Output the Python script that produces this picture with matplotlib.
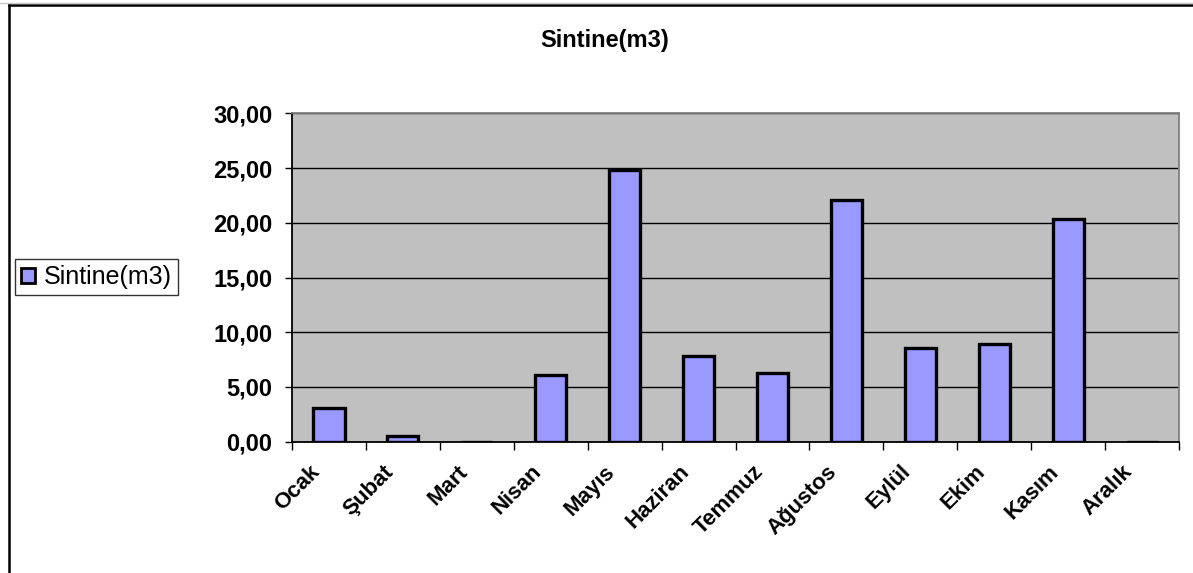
import matplotlib.pyplot as plt
import numpy as np
from matplotlib.lines import Line2D
from matplotlib.patches import Patch
from matplotlib.transforms import ScaledTranslation

months = ['Ocak', 'Şubat', 'Mart', 'Nisan', 'Mayıs', 'Haziran',
          'Temmuz', 'Ağustos', 'Eylül', 'Ekim', 'Kasım', 'Aralık']
sintine = [3.05, 0.55, 0.0, 6.1, 24.8, 7.85, 6.25, 22.1, 8.6, 8.9, 20.3, 0.0]
yticks = [0, 5, 10, 15, 20, 25, 30]

plt.rcParams['font.family'] = ['Liberation Sans', 'DejaVu Sans']

fig = plt.figure(figsize=(11.93, 5.73), dpi=100)
ax = fig.add_axes([0.2448, 0.2291, 0.7435, 0.5732])
ax.set_facecolor('#C0C0C0')

x = np.arange(len(months))
ax.bar(x, sintine, width=0.42, color='#9999FF', edgecolor='black',
       linewidth=2.4, zorder=3)

ax.set_xlim(-0.5, len(months) - 0.5)
ax.set_ylim(0, 30)
ax.set_yticks(yticks)
ax.set_yticklabels([f'{v:.2f}'.replace('.', ',') for v in yticks],
                   fontsize=17, fontweight='bold')
ax.yaxis.grid(True, color='black', linewidth=1.0, zorder=1)
ax.set_axisbelow(True)

# ticks sit between categories, labels at the centres
ax.set_xticks(np.arange(len(months) + 1) - 0.5)
ax.set_xticklabels([])
ax.set_xticks(x, minor=True)
ax.set_xticklabels(months, minor=True, rotation=45, ha='right', va='top',
                   rotation_mode='anchor', fontsize=16, fontweight='bold')
ax.tick_params(axis='x', which='minor', length=0, pad=14)
ax.tick_params(axis='x', which='major', length=6, width=1, direction='out')
ax.tick_params(axis='y', length=5, width=1, direction='out', pad=9)

off = ScaledTranslation(-0.2, 0, fig.dpi_scale_trans)
for lbl in ax.get_xticklabels(minor=True):
    lbl.set_transform(lbl.get_transform() + off)

ax.spines['left'].set_color('black')
ax.spines['bottom'].set_color('black')
ax.spines['top'].set_color('#808080')
ax.spines['right'].set_color('#808080')
for s in ax.spines.values():
    s.set_linewidth(1.3)

fig.text(605 / 1193, 1 - 40 / 573, 'Sintine(m3)', ha='center', va='center',
         fontsize=17, fontweight='bold')

handle = Patch(facecolor='#9999FF', edgecolor='black', linewidth=2.0)
leg = fig.legend([handle], ['Sintine(m3)'], loc='center left',
                 bbox_to_anchor=(15 / 1193, 1 - 277 / 573), fontsize=18,
                 frameon=True, fancybox=False, handlelength=0.55,
                 handleheight=0.55, handletextpad=0.35, borderpad=0.25,
                 borderaxespad=0)
leg.get_frame().set_edgecolor('black')
leg.get_frame().set_linewidth(1.0)

# chart area border (left and top edges)
fig.add_artist(Line2D([9 / 1193, 9 / 1193], [0, 1 - 4.5 / 573],
                      color='black', linewidth=1.8))
fig.add_artist(Line2D([9 / 1193, 1], [1 - 4.5 / 573, 1 - 4.5 / 573],
                      color='black', linewidth=1.8))
fig.add_artist(Line2D([0, 1], [1 - 2.5 / 573, 1 - 2.5 / 573],
                      color='#C8C8C8', linewidth=1.0))

fig.savefig('out.png', dpi=100)
